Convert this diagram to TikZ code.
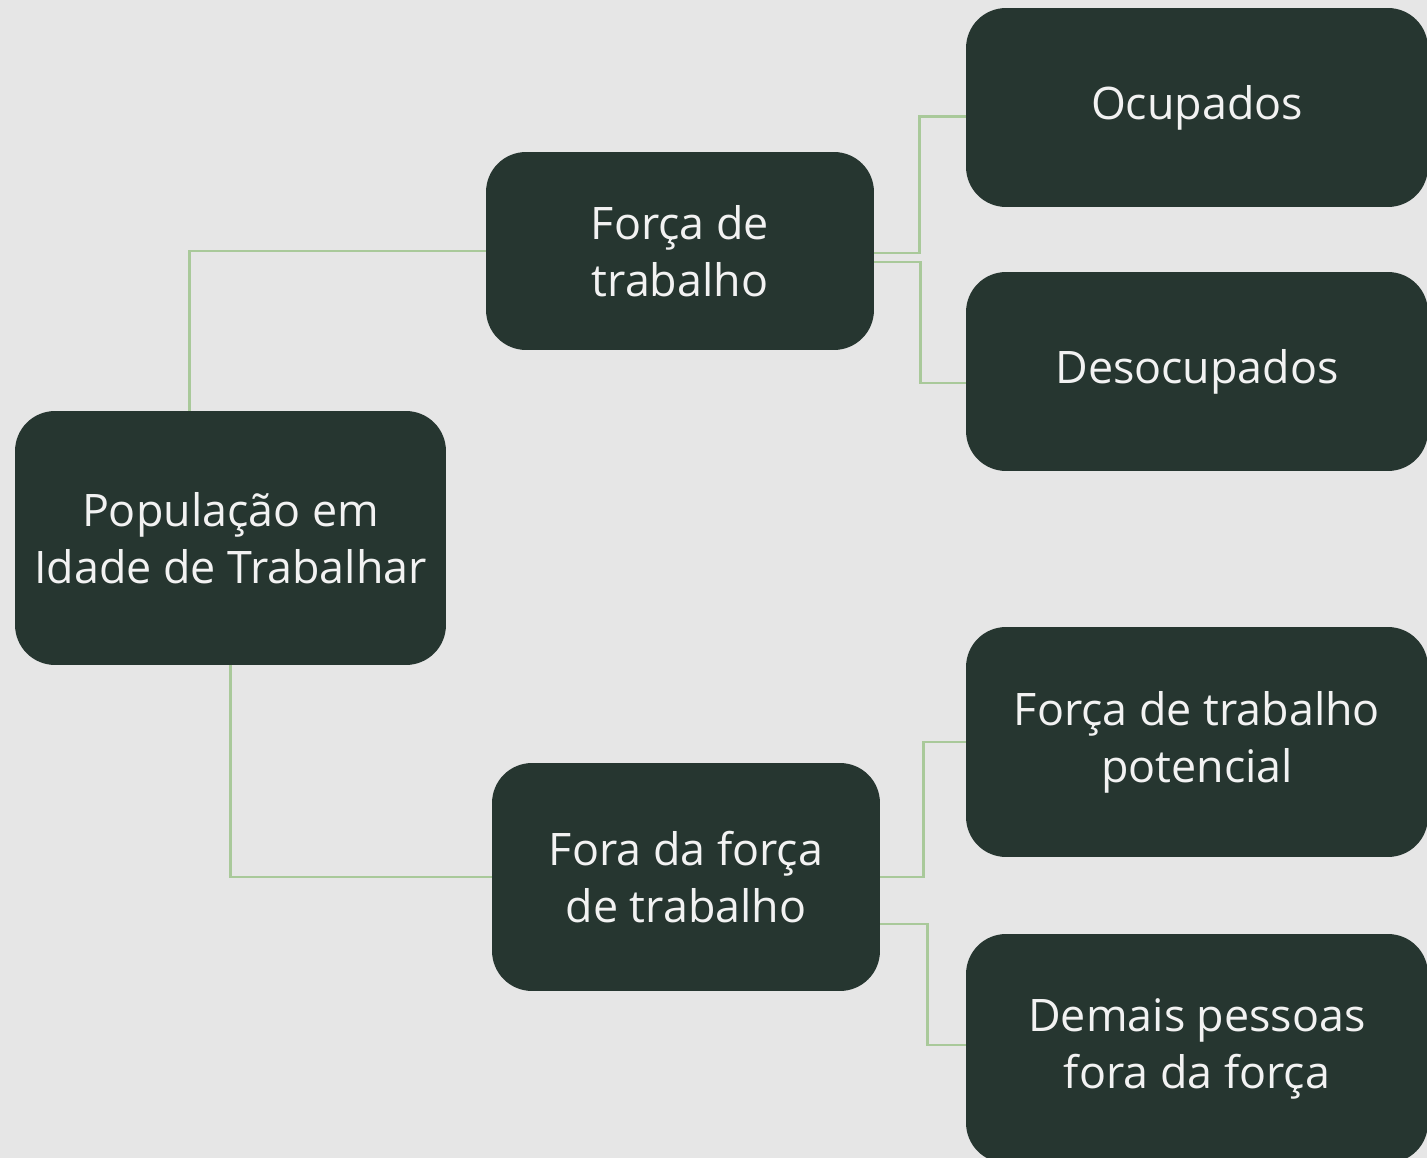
\documentclass[tikz,border=0pt]{standalone}
\usepackage{fontspec}
\setmainfont{Open Sans}
\usepackage{tikz}
\usetikzlibrary{calc}
\definecolor{boxgreen}{HTML}{263630}
\definecolor{linkgreen}{HTML}{A9C99A}
\definecolor{paper}{HTML}{E6E6E6}
\tikzset{
    box/.style={rectangle, rounded corners=0.8cm, fill=boxgreen, text=white!95!black,
        align=center, inner sep=0pt, font=\fontsize{25.5}{32.4}\selectfont},
    link/.style={draw=linkgreen, line width=1.6pt}
}

\begin{document}
\begin{tikzpicture}[x=0.02cm, y=-0.02cm]
    \fill[paper] (0,0) rectangle (1427,1158);
    \useasboundingbox (0,0) rectangle (1427,1158);
    \node[box, minimum width=8.62cm, minimum height=5.08cm] (pit) at (230.5,538) {População em\\Idade de Trabalhar};
    \node[box, minimum width=7.76cm, minimum height=3.96cm] (ft) at (680,251) {Força de\\trabalho};
    \node[box, minimum width=7.76cm, minimum height=4.56cm] (fft) at (686,877) {Fora da força\\de trabalho};
    \node[box, minimum width=9.24cm, minimum height=3.98cm] (oc) at (1197,107.5) {Ocupados};
    \node[box, minimum width=9.24cm, minimum height=3.98cm] (de) at (1197,371.5) {Desocupados};
    \node[box, minimum width=9.24cm, minimum height=4.6cm] (fp) at (1197,742) {Força de trabalho\\potencial};
    \node[box, minimum width=9.24cm, minimum height=4.58cm] (dp) at (1197,1048.5) {Demais pessoas\\fora da força};
    \draw[link] ($(pit.north)+(-41,0)$) |- (ft.west);
    \draw[link] (pit.south) |- (fft.west);
    \draw[link] ($(ft.east)+(0,2)$) -- ++(45,0) |- ($(oc.west)+(0,9)$);
    \draw[link] ($(ft.east)+(0,11)$) -- ++(46,0) |- ($(de.west)+(0,11.5)$);
    \draw[link] (fft.east) -- ++(43,0) |- (fp.west);
    \draw[link] ($(fft.east)+(0,47)$) -- ++(47,0) |- ($(dp.west)+(0,-3.5)$);
\end{tikzpicture}
\end{document}
